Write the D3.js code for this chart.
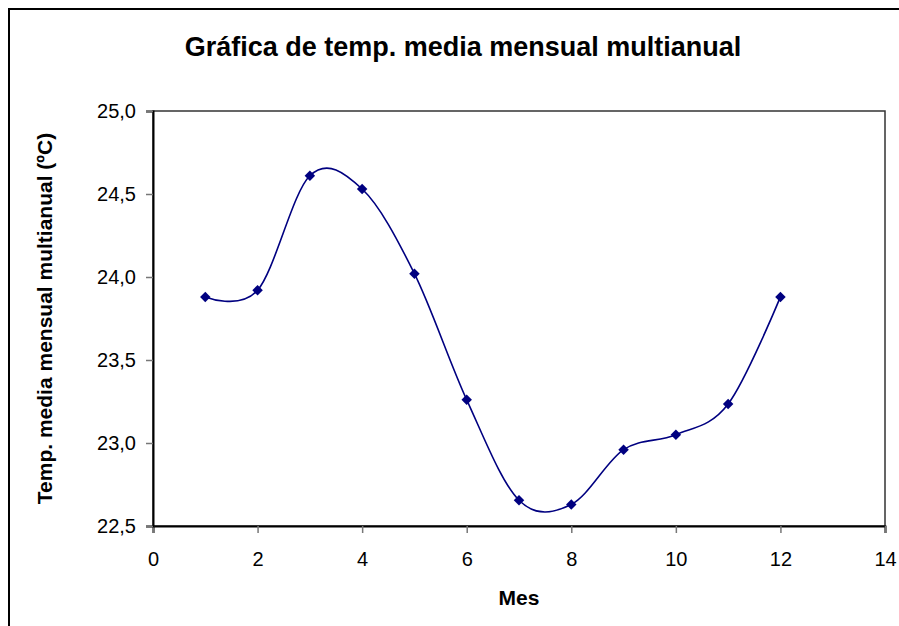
<!DOCTYPE html>
<html>
<head>
<meta charset="utf-8">
<script src="https://cdn.jsdelivr.net/npm/d3@7"></script>
<style>
  body { margin: 0; background: #fff; }
  text { font-family: "Liberation Sans", Arial, sans-serif; }
</style>
</head>
<body>
<div id="chart"></div>
<script>
// Datos del gráfico
var months = [1, 2, 3, 4, 5, 6, 7, 8, 9, 10, 11, 12];
var temps = [23.88, 23.92, 24.61, 24.53, 24.02, 23.26, 22.655, 22.63, 22.96, 23.05, 23.235, 23.88];
var xTicks = [0, 2, 4, 6, 8, 10, 12, 14];
var yTicks = [22.5, 23.0, 23.5, 24.0, 24.5, 25.0];

var width = 899,
  height = 626,
  margin = {top: 111, right: 14, bottom: 100, left: 153};

var svg = d3.select('#chart').append('svg')
  .attr('width', width)
  .attr('height', height);

// Marco exterior del gráfico
svg.append('rect')
  .attr('x', 9).attr('y', 9)
  .attr('width', 920).attr('height', 640)
  .attr('fill', 'white')
  .attr('stroke', '#000')
  .attr('stroke-width', 2);

var x = d3.scaleLinear().domain([0, 14]).range([margin.left, width - margin.right]);
var y = d3.scaleLinear().domain([22.5, 25]).range([height - margin.bottom, margin.top]);

var fmt = function (d) { return d3.format('.1f')(d).replace('.', ','); };

// Borde del área de trazado
svg.append('rect')
  .attr('x', x(0)).attr('y', y(25))
  .attr('width', x(14) - x(0)).attr('height', y(22.5) - y(25))
  .attr('fill', 'none')
  .attr('stroke', '#333')
  .attr('stroke-width', 1.5);

var xAxis = svg.append('g')
  .attr('transform', 'translate(0,' + y(22.5) + ')')
  .call(d3.axisBottom(x).tickValues(xTicks).tickSize(7).tickPadding(19));

var yAxis = svg.append('g')
  .attr('transform', 'translate(' + x(0) + ',0)')
  .call(d3.axisLeft(y).tickValues(yTicks).tickFormat(fmt).tickSize(7).tickPadding(10));

[xAxis, yAxis].forEach(function (g) {
  g.select('.domain').attr('stroke', '#000').attr('stroke-width', 2);
  g.selectAll('.tick line').attr('stroke', '#777').attr('stroke-width', 1.5);
  g.selectAll('.tick text')
    .attr('fill', '#000')
    .style('font-size', '20px')
    .style('font-family', '"Liberation Sans", Arial, sans-serif');
});

// Línea suavizada
var line = d3.line()
  .x(function (d, i) { return x(months[i]); })
  .y(function (d) { return y(d); })
  .curve(d3.curveCardinal.tension(0));

svg.append('path')
  .datum(temps)
  .attr('fill', 'none')
  .attr('stroke', '#000080')
  .attr('stroke-width', 1.6)
  .attr('d', line);

// Marcadores en rombo
svg.selectAll('path.marker')
  .data(temps)
  .enter()
  .append('path')
  .attr('class', 'marker')
  .attr('transform', function (d, i) { return 'translate(' + x(months[i]) + ',' + y(d) + ')'; })
  .attr('d', d3.symbol().type(d3.symbolDiamond2).size(70))
  .attr('fill', '#000080');

// Títulos
svg.append('text')
  .attr('x', 463).attr('y', 56)
  .attr('text-anchor', 'middle')
  .style('font-size', '27px')
  .style('font-weight', 'bold')
  .text('Gráfica de temp. media mensual multianual');

svg.append('text')
  .attr('x', 519).attr('y', 605)
  .attr('text-anchor', 'middle')
  .style('font-size', '21px')
  .style('font-weight', 'bold')
  .text('Mes');

svg.append('text')
  .attr('transform', 'translate(52,' + ((y(25) + y(22.5)) / 2) + ') rotate(-90)')
  .attr('text-anchor', 'middle')
  .style('font-size', '21px')
  .style('font-weight', 'bold')
  .text('Temp. media mensual multianual (ºC)');
</script>
</body>
</html>
